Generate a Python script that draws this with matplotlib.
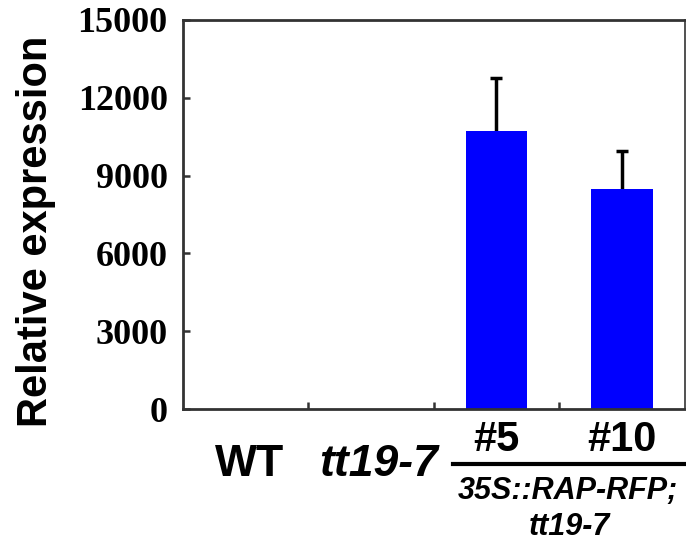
import matplotlib
matplotlib.use("Agg")
import matplotlib.pyplot as plt
from matplotlib.lines import Line2D

categories = ["WT", "tt19-7", "#5", "#10"]
values = [0, 0, 10720, 8480]
errors = [0, 0, 2050, 1470]
yticks = [0, 3000, 6000, 9000, 12000, 15000]
group_label = ["35S::RAP-RFP;", "tt19-7"]

fig = plt.figure(figsize=(6.86, 5.45), dpi=100)
W, H = 686, 545
ax = fig.add_axes([183/W, 1-409/H, (684.5-183)/W, (409-20)/H])

x = list(range(len(categories)))
ax.bar(x, values, width=0.49, color="#0000FF", zorder=2)
xe = x[2:]
lo = values[2:]
hi = [v + e for v, e in zip(values[2:], errors[2:])]
ax.vlines(xe, lo, hi, color="black", lw=2.5, zorder=1)
ax.plot(xe, hi, ls="none", marker="_", ms=9, mew=2.5, color="black", zorder=3)

ax.set_xlim(-0.5, 3.5)
ax.set_ylim(0, 15000)
ax.set_yticks(yticks)
ax.set_yticklabels([str(v) for v in yticks], fontfamily="Liberation Serif",
                   fontweight="bold", fontsize=26)
ax.set_xticks([0.5, 1.5, 2.5])
ax.set_xticklabels([])
ax.tick_params(axis="y", direction="in", length=5, width=1.8, color="#333333", pad=11)
ax.tick_params(axis="x", direction="in", length=5, width=1.8, color="#333333")
for s in ax.spines.values():
    s.set_linewidth(2)
    s.set_color("#333333")
ax.spines["right"].set_linewidth(1.2)

fig.text(36/W, 1-231/H, "Relative expression", rotation=90, ha="center", va="center",
         fontfamily="Liberation Sans", fontweight="bold", fontsize=30)

tr = ax.get_xaxis_transform()
def yax(py):
    return (409 - py) / 389

ax.text(0.03, yax(465), categories[0], transform=tr, ha="center", va="center",
        fontfamily="Liberation Sans", fontweight="bold", fontsize=32, clip_on=False)
ax.text(1.06, yax(465), categories[1], transform=tr, ha="center", va="center",
        fontfamily="Liberation Sans", fontweight="bold", fontstyle="italic",
        fontsize=32, clip_on=False)
ax.text(2, yax(440), categories[2], transform=tr, ha="center", va="center",
        fontfamily="Liberation Sans", fontweight="bold", fontsize=30, clip_on=False)
ax.text(3, yax(440), categories[3], transform=tr, ha="center", va="center",
        fontfamily="Liberation Sans", fontweight="bold", fontsize=30, clip_on=False)
fig.add_artist(Line2D([453/W, 686/W], [1-464/H, 1-464/H], color="black", lw=3))
fig.text(568/W, 1-491/H, group_label[0], ha="center", va="center",
         fontfamily="Liberation Sans", fontweight="bold", fontstyle="italic", fontsize=22)
fig.text(569/W, 1-527/H, group_label[1], ha="center", va="center",
         fontfamily="Liberation Sans", fontweight="bold", fontstyle="italic", fontsize=22)

fig.savefig("out.png", dpi=100)
